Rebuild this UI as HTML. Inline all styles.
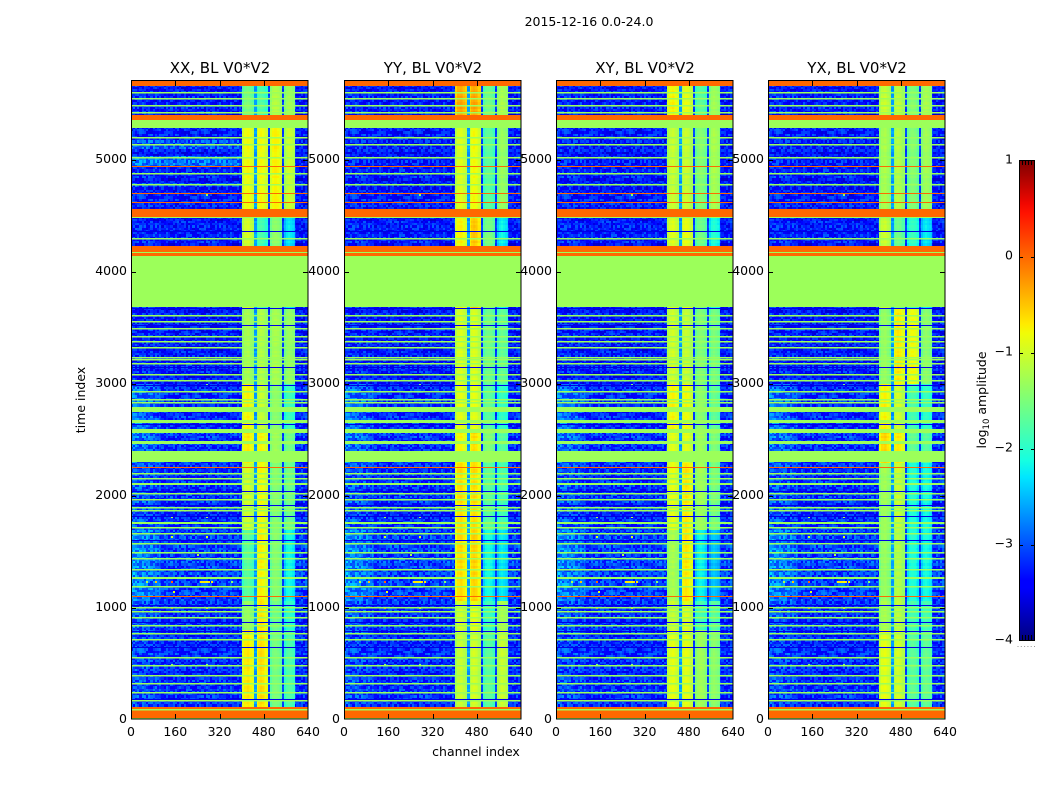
<!DOCTYPE html>
<html>
<head>
<meta charset="utf-8">
<title>2015-12-16 0.0-24.0</title>
<style>
html,body{margin:0;padding:0;background:#fff;width:1050px;height:800px;overflow:hidden}
#stage{position:relative;width:1050px;height:800px;background:#fff}
canvas{position:absolute;top:81px;image-rendering:pixelated}
svg{position:absolute;left:0;top:0}
text{font-family:"DejaVu Sans","Liberation Sans",sans-serif;fill:#000}
</style>
</head>
<body>
<div id="stage">
<canvas id="hm0" width="177" height="638" style="left:131px"></canvas>
<canvas id="hm1" width="177" height="638" style="left:344px"></canvas>
<canvas id="hm2" width="177" height="638" style="left:556px"></canvas>
<canvas id="hm3" width="177" height="638" style="left:768px"></canvas>
<svg id="overlay" width="1050" height="800" xmlns="http://www.w3.org/2000/svg">
<defs>
<linearGradient id="jetGrad" x1="0" y1="1" x2="0" y2="0">
<stop offset="0" stop-color="#00007f"/>
<stop offset="0.11" stop-color="#0000ff"/>
<stop offset="0.125" stop-color="#0000ff"/>
<stop offset="0.34" stop-color="#00e6ff"/>
<stop offset="0.375" stop-color="#16ffe1"/>
<stop offset="0.5" stop-color="#7cff79"/>
<stop offset="0.64" stop-color="#f1fc06"/>
<stop offset="0.66" stop-color="#ffea00"/>
<stop offset="0.89" stop-color="#ff1300"/>
<stop offset="0.91" stop-color="#f10700"/>
<stop offset="1" stop-color="#7f0000"/>
</linearGradient>
</defs>
<text x="589" y="26" text-anchor="middle" font-size="12.5">2015-12-16 0.0-24.0</text>
<text x="476" y="756" text-anchor="middle" font-size="12.5">channel index</text>
<text transform="translate(85,400) rotate(-90)" text-anchor="middle" font-size="12.5">time index</text>
<rect x="1019.5" y="160.5" width="15" height="480" fill="url(#jetGrad)" stroke="#000" stroke-width="1"/>
<text transform="translate(986,400) rotate(-90)" text-anchor="middle" font-size="12.5">log<tspan font-size="8.5" dy="3">10</tspan><tspan dy="-3"> amplitude</tspan></text>
<g id="cbTicks"></g>
</svg>
</div>
<script>
// ---- chart data (time index, channel index, log10 amplitude) ----
const panelTitles = ['XX, BL V0*V2','YY, BL V0*V2','XY, BL V0*V2','YX, BL V0*V2'];
const xTicks = [0,160,320,480,640];
const yTicks = [0,1000,2000,3000,4000,5000];
const colorbarTicks = [1,0,-1,-2,-3,-4];
const channelMax = 640;
const timeMax = 5706;
const valueMin = -4;
const valueMax = 1;

// channel ranges of the four bright bands and the gaps between them
const bandRanges = [[404,449],[455,497],[505,549],[555,598]];
const gapRanges = [[449,455],[497,505],[549,555]];
const gapLevels = [-2.6,-3.1,-3.1];
const bandProfile = [-0.14,0.05,0.1,0.05,-0.02,-0.12];

// time sections for the band levels
const sectionEdges = [0,800,1050,1700,2290,2600,3000,3680,4520,5320,5706];
const baseLevels = [-3.2,-3.2,-3.1,-3.2,-3.15,-3.2,-3.3,-3.3,-3.3,-3.3];
const lowChannelGlow = [0.15,0.2,0.35,0.2,0.3,0.35,0.05,0.05,0.05,0.05];
const lowChannelEdge = 110;

const xxBands = [[-.76,-.7,-1.6,-1.84],[-1.42,-.76,-1.66,-2.02],[-1.78,-.82,-1.54,-2.2],[-1.06,-.88,-1.54,-1.66],[-.76,-.82,-1.36,-1.6],[-.82,-1.12,-1.48,-1.96],[-1.3,-1.24,-1.3,-1.42],[-1.06,-1.9,-1.48,-2.32],[-.88,-.88,-.82,-1.12],[-1.6,-1.84,-1.24,-1.36]];
const yyBands = [[-1.12,-1.06,-1.78,-1.12],[-1.06,-.94,-1.96,-1.3],[-.7,-.64,-2.2,-2.32],[-.7,-.7,-1.78,-1.9],[-.82,-.7,-1.54,-1.78],[-.94,-.94,-1.78,-2.02],[-1,-1,-1.66,-1.72],[-.82,-.58,-1.6,-2.26],[-1,-.88,-1.78,-1.42],[-.4,-.4,-1.66,-1.3]];
const xyBands = [[-.94,-.94,-1.36,-1.48],[-1.12,-1,-1.9,-1.78],[-1.3,-.76,-2.26,-2.5],[-.94,-.76,-1.36,-1.6],[-.94,-.94,-1.36,-1.54],[-.82,-.88,-1.48,-1.72],[-1.06,-1.12,-1.54,-1.6],[-1,-.94,-1.66,-2.14],[-1.12,-1.12,-1.54,-1.3],[-.82,-.94,-1.78,-1.36]];
const yxBands = [[-.94,-1.06,-1.78,-1.72],[-1.3,-1.18,-1.9,-1.9],[-1.42,-1.24,-2.14,-2.2],[-1.36,-1.12,-2.14,-2.2],[-.64,-.76,-1.72,-1.78],[-.82,-1.06,-1.9,-2.02],[-1.42,-.76,-.88,-1.48],[-1.12,-1.66,-2.02,-2.32],[-1.3,-1.24,-1.54,-1.36],[-1.12,-1.18,-1.54,-1.3]];
const panelBands = [xxBands,yyBands,xyBands,yxBands];

// a noisy channel that shows as a faint vertical line
const noisyChannel = 300;
const noisyChannelLevels = [[-2.8,-2.8,-2.8,-2.8,-2.8,-2.8,-2.8,-1.7,-1.4,-1.7],[-3.1,-3.1,-3.1,-3.1,-3.1,-3.1,-3.1,-3.1,-3.0,-3.1],[-2.9,-2.9,-2.9,-2.9,-2.9,-2.9,-2.9,-2.7,-2.4,-2.7],[-2.9,-2.9,-2.9,-2.9,-2.9,-2.9,-2.9,-2.8,-2.5,-2.8]];

// flagged time ranges
const orangeBlocks = [[0,112],[4174,4227],[4138,4165],[4495,4558],[5353,5398],[5657,5706]];
const greenBlocks = [[3686,4138],[4165,4174],[4482,4495],[5286,5353],[2748,2793],[2650,2677],[2560,2596],[2462,2489],[2301,2399],[2096,2113],[1747,1765],[1256,1273]];
const greenLines = [5608,5554,5491,5429,5205,5143,5027,4884,4785,4303,3615,3561,3499,3427,3383,3329,3240,3222,3186,3088,3034,2936,2864,2838,2203,2158,2024,1971,1899,1872,1721,1667,1578,1497,1444,1345,1193,1005,970,916,845,773,719,559,487,398,327,246,175,94,13];
const orangeLines = [4946,4705,4624,2257,1104];
const darkLines = [4365,3680,3525,3150,2989,2641,2042,1917,1819,1604,1023,871,791,648,183];
const flaggedGreen = -1.3;
const flaggedOrange = 0;
const flaggedDark = -3.55;

// lighter haze seen only in XX around these time ranges
const xxHaze = [[4930,5025,0.45],[5100,5175,0.3],[4760,4800,0.2]];

// isolated bright samples: channel, time, level
const hotSpots = [[144,1235,0],[88,1235,-.5],[272,1235,-.8],[248,1235,-.7],[256,1235,-.7],[264,1235,-.7],[280,1235,-.7],[288,1235,-.7],[144,1005,0],[272,1005,-.5],[144,1640,-1],[272,1640,-1],[272,1820,-1.2],[144,1820,-1.2],[240,1480,-1.3],[152,1150,-.9],[56,1235,-1.2],[360,1235,-1.4],[272,3000,-1.5],[310,4100,-1.2],[272,4700,-1.5],[144,500,-1.4],[272,500,-1.4]];

// hand-entered texture offsets
const grain = [0.21,-0.28,0.05,0.33,-0.12,-0.31,0.17,0.02,-0.22,0.29,-0.05,0.12,-0.34,0.24,-0.16,0.08,0.36,-0.26,-0.02,0.15,-0.19,0.27,-0.09,0.31,-0.24,0.1,-0.14,0.19,-0.3];

// ---- axis functions ----
const plotLefts = [131,344,556,768];
const plotWidth = 177;
const plotTop = 81;
const plotHeight = 638;
const pxPerTime = 0.1119;
function xPx(ch){return ch/channelMax*plotWidth;}
function yPx(t){return plotHeight+0.5-t*pxPerTime;}
function cbY(v){return 160.5+(valueMax-v)/(valueMax-valueMin)*480;}

const jetR=[[0,0],[.35,0],[.66,1],[.89,1],[1,.5]];
const jetG=[[0,0],[.125,0],[.375,1],[.64,1],[.91,0],[1,0]];
const jetB=[[0,.5],[.11,1],[.34,1],[.65,0],[1,0]];
function seg(tb,f){for(let i=1;i<tb.length;i++){if(f<=tb[i][0]){const a=tb[i-1],b=tb[i];return a[1]+(b[1]-a[1])*(f-a[0])/(b[0]-a[0]);}}return tb[tb.length-1][1];}
function jet(v){const f=Math.min(1,Math.max(0,(v-valueMin)/(valueMax-valueMin)));return 'rgb('+Math.round(seg(jetR,f)*255)+','+Math.round(seg(jetG,f)*255)+','+Math.round(seg(jetB,f)*255)+')';}
function sectionOf(t){for(let i=0;i<sectionEdges.length-1;i++){if(t<sectionEdges[i+1])return i;}return sectionEdges.length-2;}

function cellLevel(p,c,r,ch,t){
  const s=sectionOf(t);
  const noise=grain[(r*r*3+c*c*7+r*c)%grain.length];
  const rowNoise=grain[(r*11)%grain.length];
  for(let b=0;b<bandRanges.length;b++){
    const rg=bandRanges[b];
    if(ch>=rg[0]&&ch<rg[1]){
      const k=Math.min(bandProfile.length-1,Math.floor((ch-rg[0])/(rg[1]-rg[0])*bandProfile.length));
      return panelBands[p][s][b]+bandProfile[k]+noise*0.05+rowNoise*0.15;
    }
  }
  for(let g=0;g<gapRanges.length;g++){
    if(ch>=gapRanges[g][0]&&ch<gapRanges[g][1])return gapLevels[g]+noise*0.25+rowNoise*0.2;
  }
  let v=baseLevels[s]+noise*1.0+rowNoise*0.15;
  if(ch<lowChannelEdge)v+=lowChannelGlow[s]*(1-ch/(lowChannelEdge*1.6))*1.3;
  if(p===0&&ch<400){xxHaze.forEach(function(h){if(t>=h[0]&&t<h[1])v+=h[2];});}
  if(Math.abs(ch-noisyChannel)<2)v=noisyChannelLevels[p][s]+noise*0.2;
  return v;
}

function drawPanel(p){
  const ctx=document.getElementById('hm'+p).getContext('2d');
  const chStep=4, tStep=20;
  ctx.fillStyle='#fff';ctx.fillRect(0,0,plotWidth,plotHeight);
  for(let r=0;r*tStep<timeMax;r++){
    const t=r*tStep;
    const y1=yPx(t),y0=yPx(t+tStep);
    for(let c=0;c*chStep<channelMax;c++){
      const ch=c*chStep;
      const x0=xPx(ch),x1=xPx(ch+chStep);
      ctx.fillStyle=jet(cellLevel(p,Math.floor(c/2),r,ch+chStep/2,t));
      ctx.fillRect(Math.floor(x0),Math.floor(y0),Math.ceil(x1)-Math.floor(x0),Math.ceil(y1)-Math.floor(y0));
    }
  }
  hotSpots.forEach(function(h){
    ctx.fillStyle=jet(h[2]);
    ctx.fillRect(Math.round(xPx(h[0])),Math.round(yPx(h[1])),2,2);
  });
  function block(b,v){ctx.fillStyle=jet(v);const a=Math.round(yPx(b[1])),z=Math.round(yPx(b[0]));ctx.fillRect(0,a,plotWidth,Math.max(1,z-a));}
  function line(t,v,h){ctx.fillStyle=jet(v);ctx.fillRect(0,Math.round(yPx(t)),plotWidth,h);}
  darkLines.forEach(function(t){line(t,flaggedDark,1);});
  greenBlocks.forEach(function(b){block(b,flaggedGreen);});
  orangeBlocks.forEach(function(b){block(b,flaggedOrange);});
  greenLines.forEach(function(t){line(t,flaggedGreen,1.5);});
  orangeLines.forEach(function(t){line(t,flaggedOrange,1);});
}

const svgNS='http://www.w3.org/2000/svg';
const overlay=document.getElementById('overlay');
function addLine(parent,x1,y1,x2,y2,col){
  const l=document.createElementNS(svgNS,'line');
  l.setAttribute('x1',x1);l.setAttribute('y1',y1);l.setAttribute('x2',x2);l.setAttribute('y2',y2);
  l.setAttribute('stroke',col||'#000');l.setAttribute('stroke-width','1');
  parent.appendChild(l);
  return l;
}
function addText(parent,x,y,s,anchor,size){
  const t=document.createElementNS(svgNS,'text');
  t.setAttribute('x',x);t.setAttribute('y',y);t.setAttribute('text-anchor',anchor);t.setAttribute('font-size',size);
  t.textContent=s;
  parent.appendChild(t);
  return t;
}

panelTitles.forEach(function(title,p){
  drawPanel(p);
  const L=plotLefts[p];
  const g=document.createElementNS(svgNS,'g');
  
  
  overlay.appendChild(g);
  const frame=document.createElementNS(svgNS,'rect');
  frame.setAttribute('x',L+0.5);frame.setAttribute('y',plotTop-0.5);
  frame.setAttribute('width',plotWidth-0.5);frame.setAttribute('height',plotHeight+0.5);
  frame.setAttribute('fill','none');frame.setAttribute('stroke','#000');
  
  
  g.appendChild(frame);
  const ttl=addText(g,L+plotWidth/2+0.5,73,title,'middle',15);
  
  
  xTicks.forEach(function(v){
    const x=Math.round(L+xPx(v))+0.5;
    if(v>0&&v<channelMax){
      const a=addLine(g,x,plotTop,x,plotTop+5);
      
      
      const b=addLine(g,x,plotTop+plotHeight,x,plotTop+plotHeight-5);
      
      
    }
    const lb=addText(g,L+xPx(v),736,String(v),'middle',12.5);
    
    
  });
  yTicks.forEach(function(v){
    const y=Math.round(plotTop+yPx(v))+0.5;
    if(v>0){
      const a=addLine(g,L,y,L+5,y);
      
      
      const b=addLine(g,L+plotWidth,y,L+plotWidth-5,y);
      
      
    }
    const lb=addText(g,L-4,y+2.5,String(v),'end',12.5);
    
    
  });
});

const cb=document.getElementById('cbTicks');
colorbarTicks.forEach(function(v){
  const y=Math.round(cbY(v))+0.5;
  if(v!==valueMax&&v!==valueMin){
    const a=addLine(cb,1019,y,1023,y);
    
    
    const b=addLine(cb,1031,y,1035,y);
    
    
  }
  const lb=addText(cb,1013,y+2,String(v).replace('-','\u2212'),'end',12.5);
  
  
});
const cbMinorCount=[1,2,3,4];
cbMinorCount.forEach(function(i){
  const x=1019.5+i*3;
  const a=addLine(cb,x,160,x,165);
  
  
  const b=addLine(cb,x,640,x,635);
  
  
});
const cbDotCount=[0,1,2,3,4,5];
cbDotCount.forEach(function(i){
  const d=document.createElementNS(svgNS,'rect');
  d.setAttribute('x',1017.5+i*3.3);d.setAttribute('y',646);d.setAttribute('width',1);d.setAttribute('height',1);
  d.setAttribute('fill','#999');
  
  
  cb.appendChild(d);
});
</script>
</body>
</html>
